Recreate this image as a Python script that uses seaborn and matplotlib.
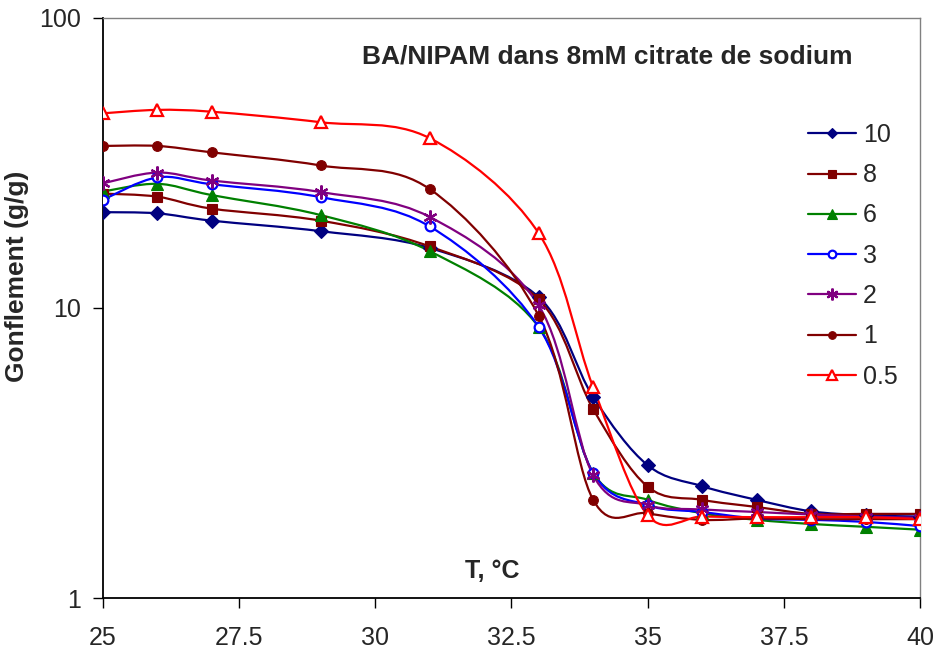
import numpy as np
import matplotlib
matplotlib.use("Agg")
import matplotlib.pyplot as plt
import seaborn as sns
from matplotlib.path import Path
from matplotlib.patches import PathPatch
from matplotlib.lines import Line2D

# temperature (°C) and swelling (g/g) for each BA content
temps = [25, 26, 27, 29, 31, 33, 34, 35, 36, 37, 38, 39, 40]
ba_10 = [21.4, 21.2, 20.0, 18.4, 16.1, 10.9, 4.93, 2.87, 2.43, 2.18, 1.99, 1.93, 1.91]
ba_8 = [24.8, 24.2, 22.0, 20.0, 16.3, 10.7, 4.48, 2.42, 2.18, 2.06, 1.95, 1.95, 1.95]
ba_6 = [25.2, 26.8, 24.5, 20.9, 15.7, 8.6, 2.70, 2.18, 1.96, 1.86, 1.80, 1.76, 1.72]
ba_3 = [23.6, 28.2, 26.7, 24.1, 19.1, 8.6, 2.70, 2.09, 1.98, 1.88, 1.86, 1.83, 1.77]
ba_2 = [26.9, 29.3, 27.5, 25.1, 20.6, 10.2, 2.65, 2.09, 2.02, 1.98, 1.94, 1.91, 1.89]
ba_1 = [36.2, 36.2, 34.4, 31.0, 25.7, 9.4, 2.18, 1.96, 1.86, 1.88, 1.87, 1.87, 1.87]
ba_05 = [46.9, 48.2, 47.5, 43.7, 38.5, 18.1, 5.33, 1.93, 1.91, 1.90, 1.90, 1.90, 1.87]

labels = ["10", "8", "6", "3", "2", "1", "0.5"]
series = [ba_10, ba_8, ba_6, ba_3, ba_2, ba_1, ba_05]
colors = ["#000080", "#800000", "#008000", "#0000FF", "#800080", "#800000", "#FF0000"]
markers = ["D", "s", "^", "o", (6, 2, 0), "o", "^"]
filled = [True, True, True, False, True, True, False]
msizes = [7, 7, 8, 7, 10, 7, 9]


def smooth_path(xs, ys):
    # Excel-style smoothed line: cubic Bezier through the points (in log space)
    pts = np.column_stack([xs, np.log10(ys)])
    n = len(pts)
    verts = [pts[0]]
    codes = [Path.MOVETO]
    for i in range(n - 1):
        p0 = pts[max(i - 1, 0)]
        p1 = pts[i]
        p2 = pts[i + 1]
        p3 = pts[min(i + 2, n - 1)]
        c1 = p1 + (p2 - p0) / 6
        c2 = p2 - (p3 - p1) / 6
        verts += [c1, c2, p2]
        codes += [Path.CURVE4] * 3
    verts = np.array(verts)
    verts[:, 1] = 10 ** verts[:, 1]
    return Path(verts, codes)


sns.set_style("white")
plt.rcParams["font.family"] = ["Liberation Sans", "DejaVu Sans"]

fig = plt.figure(figsize=(9.35, 6.51), dpi=100)
ax = fig.add_axes([0.110, 0.0814, 0.874, 0.8910])
ax.set_yscale("log")
ax.set_xlim(25, 40)
ax.set_ylim(1, 100)

handles = []
for lab, ys, col, mk, fl, ms in zip(labels, series, colors, markers, filled, msizes):
    patch = PathPatch(smooth_path(temps, ys), fill=False, edgecolor=col, lw=1.6,
                      transform=ax.transData, zorder=2)
    ax.add_patch(patch)
    fc = col if fl else "white"
    mew = 1.6 if (not fl or mk == (6, 2, 0)) else 0.8
    sns.lineplot(x=temps, y=ys, ax=ax, linestyle="", marker=mk, markersize=ms,
                 markerfacecolor=fc, markeredgecolor=col, markeredgewidth=mew,
                 color=col, zorder=3)
    handles.append(Line2D([], [], color=col, lw=1.6, marker=mk, markersize=ms - 1.5,
                          markerfacecolor=fc, markeredgecolor=col, markeredgewidth=mew))

ax.set_yticks([1, 10, 100])
ax.set_yticklabels(["1", "10", "100"])
ax.yaxis.set_minor_locator(matplotlib.ticker.NullLocator())
ax.set_xticks([25, 27.5, 30, 32.5, 35, 37.5, 40])
ax.set_xticklabels(["25", "27.5", "30", "32.5", "35", "37.5", "40"])
ax.tick_params(axis="both", labelsize=18, direction="out", length=7, width=1,
               color="black", bottom=True, left=True)
ax.tick_params(axis="x", pad=13)
ax.tick_params(axis="y", pad=9)

for side in ["left", "bottom"]:
    ax.spines[side].set_color("black")
    ax.spines[side].set_linewidth(1.3)
for side in ["right", "top"]:
    ax.spines[side].set_color("#808080")
    ax.spines[side].set_linewidth(1)

ax.set_xlabel("")
ax.set_ylabel("")
fig.text(17 / 935, 1 - 276 / 651, "Gonflement (g/g)", rotation=90,
         ha="center", va="center", fontsize=19, fontweight="bold")

fig.text(607 / 935, 1 - 57 / 651, "BA/NIPAM dans 8mM citrate de sodium",
         ha="center", va="center", fontsize=19, fontweight="bold")
fig.text(492 / 935, 1 - 571 / 651, "T, °C",
         ha="center", va="center", fontsize=18, fontweight="bold")

ax.legend(handles=handles, labels=labels, loc="upper left", frameon=False,
          bbox_to_anchor=(808 / 935, 1 - 123 / 651), bbox_transform=fig.transFigure,
          fontsize=18, handlelength=1.9, handletextpad=0.3, labelspacing=0.65,
          borderpad=0, borderaxespad=0)

fig.savefig("out.png", dpi=100)
